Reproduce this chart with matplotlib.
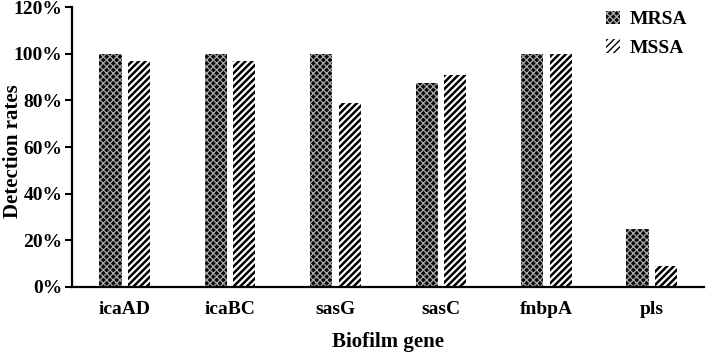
import matplotlib
matplotlib.use("Agg")
import matplotlib.pyplot as plt
import numpy as np
from matplotlib.ticker import FuncFormatter

genes = ["icaAD", "icaBC", "sasG", "sasC", "fnbpA", "pls"]
mrsa = [100, 100, 100, 87.5, 100, 25]
mssa = [97, 97, 79, 91, 100, 9]
yticks = [0, 20, 40, 60, 80, 100, 120]

plt.rcParams['font.family'] = ['Liberation Serif', 'DejaVu Serif']
plt.rcParams['font.weight'] = 'bold'

fig = plt.figure(figsize=(7.09, 3.56), dpi=100)
ax = fig.add_axes([0.1016, 0.194, 0.892, 0.786])

x = np.arange(len(genes))
w = 0.21
off = 0.135
with plt.rc_context({'hatch.linewidth': 0.9}):
    ax.bar(x - off, mrsa, w, color='#0a0a0a', edgecolor='#a8a8a8', hatch='xxxxx', linewidth=0, label='MRSA')
with plt.rc_context({'hatch.linewidth': 1.8}):
    ax.bar(x + off, mssa, w, color='white', edgecolor='black', hatch='/////', linewidth=0, label='MSSA')

ax.set_xlim(-0.5, len(genes) - 0.5)
ax.set_ylim(0, 120)
ax.set_yticks(yticks)
ax.yaxis.set_major_formatter(FuncFormatter(lambda v, p: f"{int(v)}%"))
ax.set_xticks(x)
ax.set_xticklabels(genes)
ax.tick_params(axis='x', length=0, pad=10, labelsize=14)
ax.tick_params(axis='y', length=5, width=1.5, labelsize=14, direction='out', pad=2)
for s in ['top', 'right']:
    ax.spines[s].set_visible(False)
for s in ['left', 'bottom']:
    ax.spines[s].set_linewidth(1.6)
for lab in ax.get_xticklabels() + ax.get_yticklabels():
    lab.set_fontweight('bold')
ax.set_xlabel('Biofilm gene', fontsize=15, fontweight='bold', labelpad=10)
fig.text(0.004, 1 - 151 / 356, 'Detection rates', rotation=90, ha='left', va='center',
         fontsize=15, fontweight='bold')
leg = ax.legend(loc='upper right', bbox_to_anchor=(1.0, 1.05), frameon=False, fontsize=14,
                handlelength=0.7, handleheight=0.7, handletextpad=0.5, labelspacing=0.55)
fig.savefig('out.png', dpi=100)
